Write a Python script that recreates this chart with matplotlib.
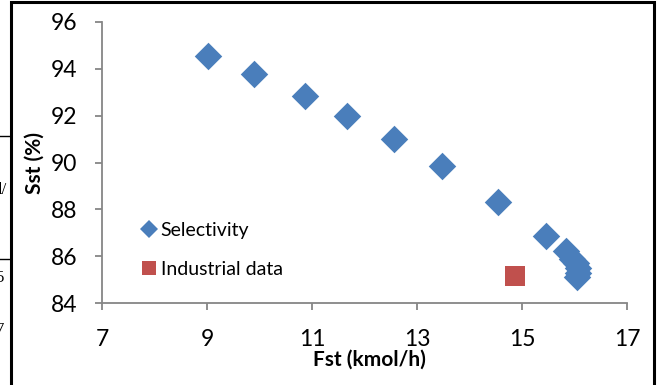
import matplotlib.pyplot as plt
from matplotlib.lines import Line2D
from matplotlib.patches import Rectangle

# datos
fst_sel = [9.02, 9.9, 10.87, 11.67, 12.56, 13.48, 14.54, 15.46, 15.84, 15.95, 16.03, 16.07, 16.07, 16.05]
sst_sel = [94.55, 93.78, 92.84, 91.98, 91.0, 89.85, 88.31, 86.85, 86.2, 85.9, 85.7, 85.5, 85.27, 85.1]
fst_ind = [14.87]
sst_ind = [85.15]
xticks = [7, 9, 11, 13, 15, 17]
yticks = [84, 86, 88, 90, 92, 94, 96]

azul = '#4A7EBB'
rojo = '#C0504D'
gris = '#868686'

plt.rcParams['font.family'] = ['Lato', 'DejaVu Sans']

fig = plt.figure(figsize=(6.57, 3.85), dpi=100)
ax = fig.add_axes([102 / 657, 1 - 303 / 385, 525 / 657, 281 / 385])

ax.scatter(fst_sel, sst_sel, marker='D', s=14 ** 2, color=azul, linewidths=0, zorder=3)
ax.scatter(fst_ind, sst_ind, marker='s', s=14 ** 2, color=rojo, linewidths=0, zorder=3)

ax.set_xlim(7, 17)
ax.set_ylim(84, 96)
ax.set_xticks(xticks)
ax.set_yticks(yticks)

for lado in ['top', 'right']:
    ax.spines[lado].set_visible(False)
for lado in ['left', 'bottom']:
    ax.spines[lado].set_color(gris)
    ax.spines[lado].set_linewidth(1.3)

ax.tick_params(axis='both', color=gris, width=1.3, length=5, labelsize=16.5)
ax.tick_params(axis='y', pad=13)
ax.tick_params(axis='x', pad=14)

ax.set_xlabel('Fst (kmol/h)', fontsize=15, fontweight='bold', va='center')
ax.set_ylabel('Sst (%)', fontsize=15, fontweight='bold', va='center')
ax.xaxis.set_label_coords(0.51, -0.2)
ax.yaxis.set_label_coords(-0.128, 0.5)

# leyenda
h1 = Line2D([], [], marker='D', ls='none', color=azul, markersize=9, markeredgewidth=0)
h2 = Line2D([], [], marker='s', ls='none', color=rojo, markersize=10, markeredgewidth=0)
ax.legend([h1, h2], ['Selectivity', 'Industrial data'], loc='upper left',
          bbox_to_anchor=(0.045, 0.35), frameon=False, fontsize=14,
          handlelength=0.6, handletextpad=0.3, labelspacing=1.1)

# marco negro
marco = Rectangle((11 / 657, -0.1), 643 / 657, 1.1 - 2 / 385, transform=fig.transFigure,
                  fill=False, edgecolor='black', linewidth=2.2, clip_on=False)
fig.patches.append(marco)

# restos del recorte a la izquierda
fig.add_artist(Line2D([0, 11 / 657], [1 - 136 / 385] * 2, transform=fig.transFigure, color='black', lw=1))
fig.add_artist(Line2D([0, 11 / 657], [1 - 259 / 385] * 2, transform=fig.transFigure, color='black', lw=1))
fig.text(-2 / 657, 1 - 190 / 385, 'l/', family='Liberation Serif', fontsize=12, va='center')
fig.text(-4 / 657, 1 - 278 / 385, '5', family='Liberation Serif', fontsize=12, va='center')
fig.text(-4 / 657, 1 - 330 / 385, '7', family='Liberation Serif', fontsize=12, va='center')

fig.savefig('out.png', dpi=100)
